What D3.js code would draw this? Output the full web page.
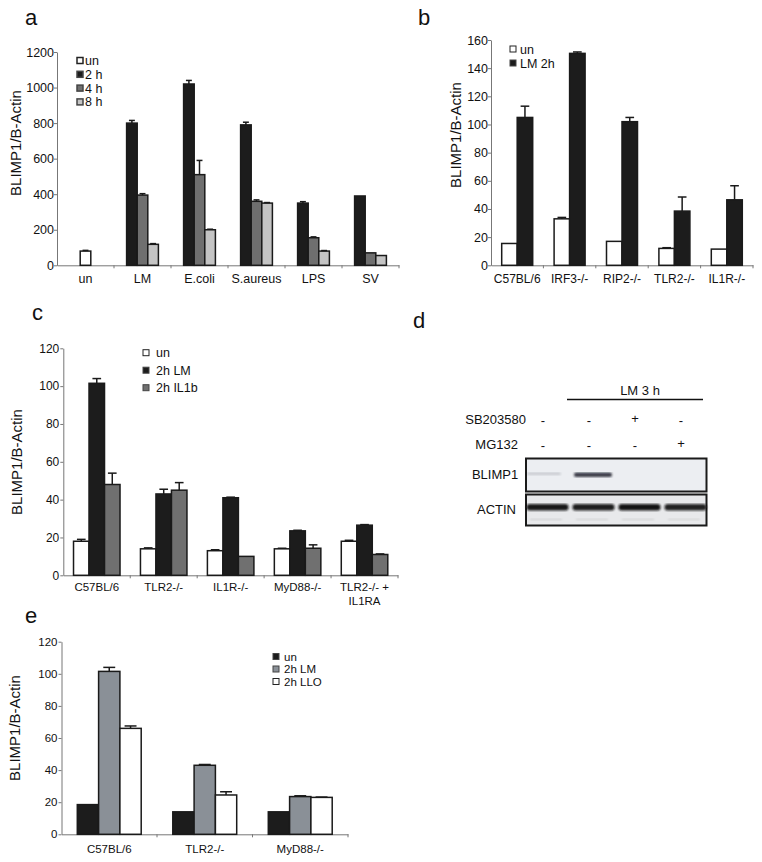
<!DOCTYPE html>
<html><head><meta charset="utf-8">
<script src="https://cdn.jsdelivr.net/npm/d3@7"></script>
<style>
body{margin:0;background:#fff;}
svg{display:block;}
text{font-family:"Liberation Sans",Arial,Helvetica,sans-serif;fill:#111;}
</style>
</head><body>
<svg id="fig" width="762" height="862"></svg>
<script>
// ---------- Panel a ----------
const aCategories = ["un","LM","E.coli","S.aureus","LPS","SV"];
const aSeries = ["un","2 h","4 h","8 h"];
const aUn  = [80,null,null,null,null,null];
const a2h  = [null,800,1020,790,350,390];
const a4h  = [null,395,510,360,155,70];
const a8h  = [null,118,200,350,80,55];
const aUnErr = [4,null,null,null,null,null];
const a2hErr = [null,15,20,15,8,0];
const a4hErr = [null,8,80,8,5,0];
const a8hErr = [null,4,3,3,3,0];
const aTicks = [0,200,400,600,800,1000,1200];

// ---------- Panel b ----------
const bCategories = ["C57BL/6","IRF3-/-","RIP2-/-","TLR2-/-","IL1R-/-"];
const bSeries = ["un","LM 2h"];
const bUn = [15.5,33,17,12,11.5];
const bLM = [105,150.5,102,38.5,46.5];
const bUnErr = [0,1,0,0.5,0];
const bLMErr = [8,1,3,10,10];
const bTicks = [0,20,40,60,80,100,120,140,160];

// ---------- Panel c ----------
const cCategories = ["C57BL/6","TLR2-/-","IL1R-/-","MyD88-/-","TLR2-/- +\nIL1RA"];
const cSeries = ["un","2h LM","2h IL1b"];
const cUn = [18,14,13,14,18];
const cLM = [101.5,43,41,23.5,26.5];
const cIL1b = [48,45,10,14.3,11];
const cUnErr = [1,0.5,0.5,0.3,0.5];
const cLMErr = [2.5,2.5,0.3,0.3,0.3];
const cIL1bErr = [6,4,0,1.8,0.3];
const cTicks = [0,20,40,60,80,100,120];

// ---------- Panel d (western blot) ----------
const dLanes = ["1","2","3","4"];
const dSB = ["-","-","+","-"];
const dMG = ["-","-","-","+"];
const dBlimp = [0.18,0.85,0,0];
const dActin = [0.95,0.92,0.97,0.9];

// ---------- Panel e ----------
const eCategories = ["C57BL/6","TLR2-/-","MyD88-/-"];
const eSeries = ["un","2h LM","2h LLO"];
const eUn = [18.5,14,14];
const eLM = [101.5,43,23.5];
const eLLO = [66,24.5,23];
const eUnErr = [0,0,0];
const eLMErr = [2.5,0.5,0.5];
const eLLOErr = [1.5,2,0.2];
const eTicks = [0,20,40,60,80,100,120];

const FONT = '"Liberation Sans",Arial,Helvetica,sans-serif';
const svg = d3.select("#fig");

function panel(o){
  const g = svg.append("g");
  const idx = o.cats.map((c,i)=>i);
  const x = d3.scaleBand().domain(idx).range([o.x0,o.x1]);
  const y = d3.scaleLinear().domain([0,o.yMax]).range([o.yBottom,o.yTop]);

  // y axis
  const ya = g.append("g").attr("transform",`translate(${o.x0},0)`)
    .call(d3.axisLeft(y).tickValues(o.ticks).tickFormat(d3.format("d")).tickSize(3).tickPadding(o.yPad).tickSizeOuter(0));
  ya.attr("font-family",FONT);
  ya.selectAll("path,line").attr("stroke","#777").attr("stroke-width",1);
  ya.selectAll("text").attr("font-size",o.tickFs).attr("fill","#111");

  // x axis (labels centered in categories)
  const xa = g.append("g").attr("transform",`translate(0,${o.yBottom})`)
    .call(d3.axisBottom(x).tickSize(0).tickPadding(o.labPad).tickSizeOuter(0).tickFormat(i=>o.cats[i]));
  xa.attr("font-family",FONT);
  xa.select("path").attr("stroke","#777").attr("stroke-width",1);
  xa.selectAll("text").attr("font-size",o.labFs).attr("fill","#111").each(function(i){
    const lines = o.cats[i].split("\n");
    if(lines.length>1){
      const t = d3.select(this).text("").attr("dy",null);
      lines.forEach((l,j)=>t.append("tspan").attr("x",0).attr("dy",j===0?"0.71em":"1.2em").text(l));
    }
  });
  // boundary tick marks
  const bounds = idx.map(i=>x(i)).concat([o.x1]);
  g.selectAll("line.bt").data(bounds.slice(1)).join("line")
    .attr("x1",d=>d).attr("x2",d=>d).attr("y1",o.yBottom).attr("y2",o.yBottom+3)
    .attr("stroke","#777");

  // bars
  idx.forEach(i=>{
    const present = o.values.map((v,s)=>s).filter(s=>o.values[s][i]!=null);
    const cx = x(i)+x.bandwidth()/2;
    const n = present.length;
    const inner = d3.scaleBand().domain(present).range([cx-n*o.bw/2, cx+n*o.bw/2]);
    present.forEach(s=>{
      const v = o.values[s][i];
      g.append("rect")
        .attr("x",inner(s)).attr("y",y(v)).attr("width",inner.bandwidth()).attr("height",y(0)-y(v))
        .attr("fill",o.colors[s]).attr("stroke","#1a1a1a").attr("stroke-width",o.bs||1.5);
      const e = o.errors[s][i];
      if(e && e>0){
        const ex = inner(s)+inner.bandwidth()/2;
        const cw = inner.bandwidth()*0.28;
        g.append("line").attr("x1",ex).attr("x2",ex).attr("y1",y(v)).attr("y2",y(v+e))
          .attr("stroke","#1a1a1a").attr("stroke-width",1.5);
        g.append("line").attr("x1",ex-cw).attr("x2",ex+cw).attr("y1",y(v+e)).attr("y2",y(v+e))
          .attr("stroke","#1a1a1a").attr("stroke-width",1.5);
      }
    });
  });

  // y title
  g.append("text").attr("transform",`translate(${o.tx},${o.ty}) rotate(-90)`)
    .attr("text-anchor","middle").attr("dominant-baseline","central")
    .attr("font-size",15).text("BLIMP1/B-Actin");

  // legend
  o.series.forEach((s,j)=>{
    const ly = o.ly + j*o.ls;
    g.append("rect").attr("x",o.lx).attr("y",ly-3).attr("width",6).attr("height",6)
      .attr("fill",o.colors[j]).attr("stroke",o.colors[j]==="#ffffff"?"#222":"#444").attr("stroke-width",o.lsw||1);
    g.append("text").attr("x",o.ltx).attr("y",ly).attr("dy","0.36em")
      .attr("font-size",o.lfs).text(s);
  });

  // panel letter
  g.append("text").attr("x",o.px).attr("y",o.py).attr("font-size",22).text(o.letter);
}

panel({letter:"a",px:25,py:25,cats:aCategories,series:aSeries,
  values:[aUn,a2h,a4h,a8h],errors:[aUnErr,a2hErr,a4hErr,a8hErr],
  colors:["#ffffff","#1c1c1c","#6f6f6f","#c4c4c4"],
  x0:57,x1:399,yBottom:265.3,yTop:52,yMax:1200,ticks:aTicks,bw:10.6,
  tickFs:12.5,yPad:0,labFs:12.5,labPad:9,tx:15,ty:143,
  lx:77,ly:60.5,ls:13.8,ltx:85,lfs:12.5,lsw:1.5});

panel({letter:"b",px:418,py:25,cats:bCategories,series:bSeries,
  values:[bUn,bLM],errors:[bUnErr,bLMErr],
  colors:["#ffffff","#1c1c1c"],
  x0:491,x1:753,yBottom:265.3,yTop:40,yMax:160,ticks:bTicks,bw:15.5,
  tickFs:12.5,yPad:0,labFs:12,labPad:9,tx:455,ty:135,
  lx:510,ly:49,ls:14,ltx:520,lfs:12.5});

panel({letter:"c",px:32,py:320,cats:cCategories,series:cSeries,
  values:[cUn,cLM,cIL1b],errors:[cUnErr,cLMErr,cIL1bErr],
  colors:["#ffffff","#1c1c1c","#707070"],
  x0:63.3,x1:398,yBottom:575.3,yTop:348.3,yMax:120,ticks:cTicks,bw:15.5,
  tickFs:12,yPad:1,labFs:11.5,labPad:7.5,tx:16,ty:462,
  lx:143,ly:352.7,ls:17.5,ltx:156,lfs:12.5});

panel({letter:"e",px:25,py:623,cats:eCategories,series:eSeries,
  values:[eUn,eLM,eLLO],errors:[eUnErr,eLMErr,eLLOErr],
  colors:["#1c1c1c","#8a9097","#ffffff"],
  x0:61.5,x1:348,yBottom:834.3,yTop:641.7,yMax:120,ticks:eTicks,bw:21.3,
  tickFs:11.5,yPad:1,labFs:11.5,labPad:11,tx:14,ty:728,
  lx:273,ly:656.5,ls:12.5,ltx:284,lfs:11.5});

// ---------- Panel d ----------
(function(){
  const g = svg.append("g");
  g.append("text").attr("x",413).attr("y",328).attr("font-size",22).text("d");
  const lane = d3.scaleBand().domain(dLanes).range([524,708]);
  const defs = svg.append("defs");
  defs.append("filter").attr("id","blur").append("feGaussianBlur").attr("stdDeviation",1.1);
  defs.append("filter").attr("id","blur2").append("feGaussianBlur").attr("stdDeviation",0.8);

  g.append("text").attr("x",640).attr("y",394.5).attr("text-anchor","middle").attr("font-size",13).text("LM 3 h");
  g.append("line").attr("x1",567).attr("x2",703).attr("y1",399.5).attr("y2",399.5).attr("stroke","#111").attr("stroke-width",1.5);

  g.append("text").attr("x",526).attr("y",423.5).attr("text-anchor","end").attr("font-size",13).text("SB203580");
  g.append("text").attr("x",518).attr("y",448.5).attr("text-anchor","end").attr("font-size",13).text("MG132");
  g.selectAll("text.sb").data(dSB).join("text").attr("class","sb")
    .attr("x",(d,i)=>lane(dLanes[i])+lane.bandwidth()/2-4).attr("y",(d)=>d==="+"?423:425)
    .attr("text-anchor","middle").attr("font-size",13).text(d=>d);
  g.selectAll("text.mg").data(dMG).join("text").attr("class","mg")
    .attr("x",(d,i)=>lane(dLanes[i])+lane.bandwidth()/2-4).attr("y",(d)=>d==="+"?448:450)
    .attr("text-anchor","middle").attr("font-size",13).text(d=>d);

  // BLIMP1 blot
  g.append("rect").attr("x",526).attr("y",458.5).attr("width",180.5).attr("height",33)
    .attr("fill","#eceef2").attr("stroke","#1a1a1a").attr("stroke-width",2);
  g.selectAll("rect.bl").data(dBlimp).join("rect").attr("class","bl")
    .attr("x",(d,i)=>lane(dLanes[i])+(i===0?3:4)).attr("y",472.5)
    .attr("width",(d,i)=>i===0?34:lane.bandwidth()-8).attr("height",(d,i)=>i===0?2.5:4.5).attr("rx",2)
    .attr("fill","#1a1f2a").attr("opacity",d=>d).attr("filter","url(#blur2)");
  g.append("text").attr("x",495).attr("y",478.5).attr("text-anchor","middle").attr("font-size",13).text("BLIMP1");

  // ACTIN blot
  g.append("rect").attr("x",526).attr("y",494.5).attr("width",180.5).attr("height",31)
    .attr("fill","#e8e9eb").attr("stroke","#1a1a1a").attr("stroke-width",2);
  g.selectAll("rect.ac").data(dActin).join("rect").attr("class","ac")
    .attr("x",(d,i)=>lane(dLanes[i])+2.5).attr("y",504)
    .attr("width",lane.bandwidth()-4).attr("height",6.5).attr("rx",3)
    .attr("fill","#111").attr("opacity",d=>d).attr("filter","url(#blur)");
  g.selectAll("rect.ac2").data(dActin).join("rect").attr("class","ac2")
    .attr("x",(d,i)=>lane(dLanes[i])+6).attr("y",518.5)
    .attr("width",lane.bandwidth()-14).attr("height",2)
    .attr("fill","#999").attr("opacity",d=>d*0.25).attr("filter","url(#blur)");
  g.append("text").attr("x",496.5).attr("y",513.5).attr("text-anchor","middle").attr("font-size",13).text("ACTIN");
})();
</script>
</body></html>
